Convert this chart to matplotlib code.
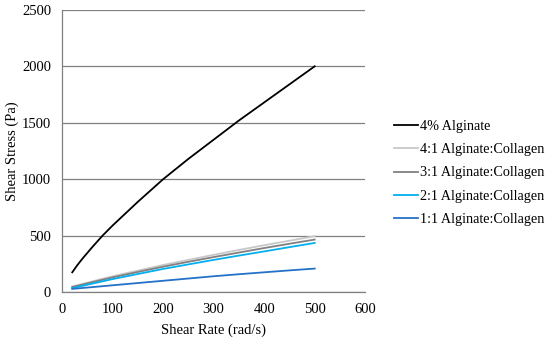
import matplotlib
matplotlib.use("Agg")
import matplotlib.pyplot as plt

plt.rcParams['font.family'] = ['Liberation Serif', 'DejaVu Serif']

# shear rate (rad/s) and shear stress (Pa)
shear_rate = [20, 30, 40, 60, 80, 100, 150, 200, 250, 300, 350, 400, 450, 500]
alg_4pct = [175, 238, 295, 400, 500, 590, 800, 1000, 1180, 1350, 1520, 1680, 1840, 2000]
alg_col_41 = [50, 61, 72, 95, 118, 140, 190, 240, 285, 330, 373, 415, 455, 495]
alg_col_31 = [45, 55, 66, 88, 109, 130, 178, 225, 268, 310, 350, 390, 428, 465]
alg_col_21 = [35, 45, 55, 75, 95, 115, 160, 205, 245, 285, 323, 360, 398, 435]
alg_col_11 = [28, 32, 36, 44, 52, 60, 80, 100, 120, 140, 158, 175, 192, 208]

series = [
    ("4% Alginate", alg_4pct, "#000000"),
    ("4:1 Alginate:Collagen", alg_col_41, "#c8c8c8"),
    ("3:1 Alginate:Collagen", alg_col_31, "#808080"),
    ("2:1 Alginate:Collagen", alg_col_21, "#00b0f0"),
    ("1:1 Alginate:Collagen", alg_col_11, "#2472c8"),
]

fig = plt.figure(figsize=(5.5, 3.4), dpi=100)
ax = fig.add_axes((0.113, 0.141, 0.551, 0.830))

for name, vals, col in series:
    ax.plot(shear_rate, vals, color=col, lw=1.3, label=name)

ax.set_xlim(0, 600)
ax.set_ylim(0, 2500)
ax.set_xticks(range(0, 601, 100))
ax.set_yticks(range(0, 2501, 500))
ax.grid(axis='y', color='#808080', lw=0.9)
ax.set_axisbelow(True)
ax.tick_params(length=0, labelsize=10.5, pad=8)
for s in ['top', 'right']:
    ax.spines[s].set_visible(False)
for s in ['left', 'bottom']:
    ax.spines[s].set_color('#808080')
    ax.spines[s].set_linewidth(0.9)

ax.set_xlabel('Shear Rate (rad/s)', fontsize=10.5, labelpad=5)
ax.set_ylabel('Shear Stress (Pa)', fontsize=10.5, labelpad=2)

ax.legend(loc='center left', bbox_to_anchor=(1.053, 0.422), frameon=False,
          fontsize=10.2, handlelength=1.7, handletextpad=0.15, labelspacing=0.72)

fig.savefig('out.png', dpi=100)
